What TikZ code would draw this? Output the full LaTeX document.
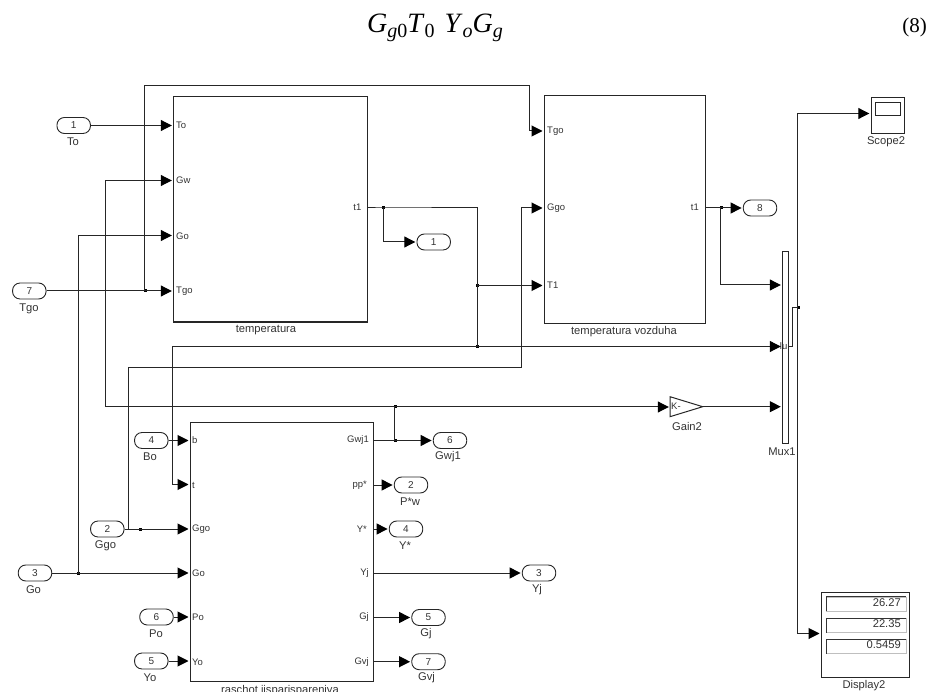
\documentclass[tikz,border=0pt]{standalone}
\usepackage{fontspec}
\setmainfont{Liberation Sans}
\newfontfamily\eqfont{Liberation Serif}
\usetikzlibrary{arrows.meta,shapes.geometric}
\definecolor{ln}{gray}{0.15}
\tikzset{
 x=1pt,y=-1pt,
 wire/.style={draw=ln,line width=1pt},
 arr/.style={wire,-{Triangle[length=11pt,width=11pt,black]},shorten >=1.2pt},
 blockbox/.style={draw=ln,line width=1.1pt,inner sep=0pt,anchor=north west},
 port/.style={draw=ln,line width=0.9pt,rounded corners=7.5pt,minimum width=33.5pt,minimum height=16pt,inner sep=0pt,font=\fontsize{10}{11}\selectfont,text=black!80},
 lab/.style={font=\fontsize{11.2}{12}\selectfont,text=black!80,inner sep=0pt},
 plab/.style={font=\fontsize{9.5}{10}\selectfont,text=black!80,inner sep=0pt},
 dot/.style={fill=black,inner sep=0pt,minimum size=3pt,rectangle,xshift=0.6pt},
}
\newcommand{\eqv}[2]{{\fontsize{28}{29}\selectfont\textit{#1}}\raisebox{-4.5pt}{\fontsize{20}{21}\selectfont #2}}
\begin{document}
\begin{tikzpicture}
\useasboundingbox (0,0) rectangle (929,692);
% equation
\node[inner sep=0pt,anchor=base west,font=\eqfont] (eq) at (367,33) {\eqv{G}{\textit{g}0}\eqv{T}{0}\hspace{10pt}\eqv{Y}{\textit{o}}\eqv{G}{\textit{g}}};
\node[inner sep=0pt,anchor=base east,font=\eqfont\fontsize{21}{22}\selectfont] (eqn) at (927,33) {(8)};
% blocks
\node[blockbox,minimum width=194pt,minimum height=225.5pt] (bt) at (173,96) {};
\node[blockbox,minimum width=161pt,minimum height=228pt] (bv) at (543.7,95) {};
\node[blockbox,minimum width=183pt,minimum height=258.7pt] (br) at (189.7,422.3) {};
\node[blockbox,minimum width=6pt,minimum height=192pt] (mux) at (782,251) {};
\node[blockbox,minimum width=33.5pt,minimum height=35.7pt] (scope) at (870.5,97) {};
\node[blockbox,minimum width=25pt,minimum height=13.3pt] (scr) at (875,101.7) {};
\node[blockbox,minimum width=88.3pt,minimum height=85.6pt] (disp) at (820.7,591.7) {};
\coordinate (ga) at (670,396.7);
\coordinate (gb) at (670,416.7);
\coordinate (gc) at (702.7,406.7);
\draw[wire] (ga) -- (gc) -- (gb) -- cycle;
\node[plab,anchor=west] (gaink) at (671,406.7) {K-};
% display fields
\foreach \n/\y/\v in {a/596.7/26.27,b/618/22.35,c/639/0.5459}{
 \node[draw=black!25,line width=0.6pt,minimum width=79.7pt,minimum height=14pt,inner sep=0pt,anchor=north west] (d\n) at (826,\y) {};
 \draw[black!80,line width=0.8pt] (d\n.south west)--(d\n.north west)--(d\n.north east);
 \node[lab,anchor=east] (dv\n) at (901,\y+6) {\v};
}
% ports left
\node[port] (p1) at (73.7,125.5) {1};
\node[port] (p7) at (29.3,291) {7};
\node[port] (p4) at (151.3,440.5) {4};
\node[port] (p2) at (107.3,529) {2};
\node[port] (p3) at (35,573) {3};
\node[port] (p6) at (156.5,617) {6};
\node[port] (p5) at (151.3,661) {5};
% ports right
\node[port] (o1) at (433.7,242) {1};
\node[port] (o8) at (760,208) {8};
\node[port] (o6) at (450,440.5) {6};
\node[port] (o2) at (411,485) {2};
\node[port] (o4) at (406,529) {4};
\node[port] (o3) at (539,573) {3};
\node[port] (o5) at (428.5,617.5) {5};
\node[port] (o7) at (428.5,661.7) {7};
% port labels
\foreach \n/\x/\y/\t in {ta/73/142/To,tb/29/308.5/Tgo,tc/150/457/Bo,td/105.5/546/Ggo,te/33.5/590/Go,tf/156/634/Po,tg/150/678/Yo,th/448/457/Gwj1,ti/410/502/P*w,tj/405/546/Y*,tk/537/590/Yj,tl/426/634/Gj,tm/426.5/678/Gvj}
 \node[lab] (\n) at (\x,\y) {\t};
% titles
\node[lab] (nt) at (266,330) {temperatura};
\node[lab] (nv) at (624,332) {temperatura vozduha};
\node[lab,anchor=base] (nr) at (280,693.5) {raschot ijsparispareniya};
\node[lab] (ng) at (687,426) {Gain2};
\node[lab] (nm) at (782,452) {Mux1};
\node[lab] (ns) at (886,141.5) {Scope2};
\node[lab] (nd) at (864,686) {Display2};
\node[plab] (mn) at (785,346) {lu:};
% port names
\foreach \n/\a/\x/\y/\t in {
 a/west/176/125/To,b/west/176/180.5/Gw,c/west/176/236/Go,d/west/176/291/Tgo,
 e/east/361.5/207.5/t1,
 f/west/547/131/Tgo,g/west/547/208/Ggo,h/west/547/285.5/T1,i/east/699/207.5/t1,
 j/west/192/440/b,k/west/192/485/t,l/west/192/529/Ggo,m/west/192/573/Go,n/west/192/617/Po,o/west/192/662/Yo,
 p/east/369/440/Gwj1,q/east/367/485/pp*,r/east/367/529/Y*,s/east/369/573/Yj,u/east/369/617/Gj,v/east/369/662/Gvj}
 \node[plab,anchor=\a] (pn\n) at (\x,\y) {\t};
% junctions
\coordinate (j1) at (144.5,291);
\coordinate (j2) at (383,208);
\coordinate (j3) at (477,285.5);
\coordinate (j4) at (477,346.5);
\coordinate (j5) at (394.5,407);
\coordinate (j6) at (394.5,440.5);
\coordinate (j7) at (140,529);
\coordinate (j8) at (78,573);
\coordinate (j9) at (720.5,208);
\coordinate (j10) at (797.7,307.7);
\coordinate (k1) at (105.5,407);
\coordinate (k2) at (128,529);
\coordinate (k3) at (172,346.5);
\foreach \c in {j1,j2,j3,j4,j5,j6,j7,j8,j9,j10} \node[dot] at (\c) {};
% wires
\draw[arr] (p1.east) -- (bt.west |- p1.east);
\draw[arr] (p7.east) -- (bt.west |- p7.east);
\draw[arr] (j1) |- (529,86) -- (529,131) -- (bv.west |- 0,131);
% Gwj1 fed back to Gw and gain
\draw[arr] (br.east |- o6.west) -- (o6.west);
\draw[wire] (j6) -- (j5);
\draw[arr] (k1) |- (bt.west |- 0,180.5);
\draw[arr] (k1) -- (ga |- k1);
\draw[arr] (gc) -- (mux.west |- gc);
% Go
\draw[arr] (p3.east) -- (br.west |- p3.east);
\draw[arr] (j8) |- (bt.west |- 0,235.5);
% Ggo
\draw[arr] (p2.east) -- (br.west |- p2.east);
\draw[arr] (k2) |- (521,368) |- (bv.west |- 0,208);
% t1 temperatura
\draw[wire] (bt.east |- j2) -- (j2) -| (j4);
\draw[arr] (j2) |- (o1.west);
\draw[arr] (j3) -- (bv.west |- j3);
\draw[arr] (k3) -- (mux.west |- k3);
\draw[arr] (k3) |- (br.west |- 0,484.5);
% t1 vozduha
\draw[arr] (bv.east |- j9) -- (o8.west);
\draw[arr] (j9) |- (mux.west |- 0,285);
% mux out
\draw[wire] (mux.east |- k3) -- (792,346.5) |- (j10);
\draw[arr] (j10) |- (scope.west |- 0,113.5);
\draw[arr] (j10) |- (disp.west |- 0,633.5);
% raschot inputs
\draw[arr] (p4.east) -- (br.west |- p4.east);
\draw[arr] (p6.east) -- (br.west |- p6.east);
\draw[arr] (p5.east) -- (br.west |- p5.east);
% raschot outputs
\draw[arr] (br.east |- o2.west) -- (o2.west);
\draw[arr] (br.east |- o4.west) -- (o4.west);
\draw[arr] (br.east |- o3.west) -- (o3.west);
\draw[arr] (br.east |- o5.west) -- (o5.west);
\draw[arr] (br.east |- o7.west) -- (o7.west);
\end{tikzpicture}
\end{document}
